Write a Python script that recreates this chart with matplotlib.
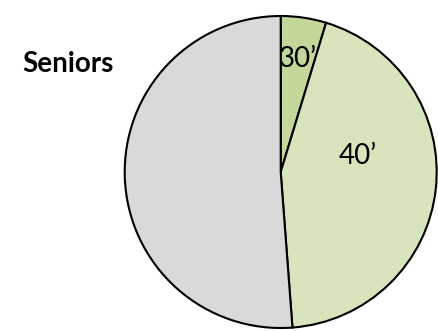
import matplotlib
matplotlib.use("Agg")
import matplotlib.pyplot as plt
import numpy as np

plt.rcParams['font.family'] = ['Lato', 'DejaVu Sans']

# Share of seniors by age band
categories = ["30’", "40’", "Other"]
shares = [4.7, 44.1, 51.2]
colors = ["#C4D79B", "#D8E4BC", "#D9D9D9"]
show_label = [True, True, False]
title = "Seniors"

W, H, DPI = 439, 331, 100
fig = plt.figure(figsize=(W / DPI, H / DPI), dpi=DPI)

# Square axes holding the unit-radius pie
cx, cy, r = 280.7, 172.0, 156.0
ax = fig.add_axes([(cx - r) / W, (H - cy - r) / H, 2 * r / W, 2 * r / H])

wedges, _ = ax.pie(shares, colors=colors, startangle=90, counterclock=False,
                   radius=1.0,
                   wedgeprops=dict(edgecolor="black", linewidth=1.5))
for w in wedges:
    w.set_clip_on(False)
ax.set_xlim(-1, 1)
ax.set_ylim(-1, 1)
ax.set_aspect('auto')
ax.axis('off')

# Category labels placed inside their slices
label_radius = [0.73, 0.50, 0.5]
label_shift = [0.0, 0.16, 0.0]
for w, name, show, rad, shift in zip(wedges, categories, show_label, label_radius, label_shift):
    if not show:
        continue
    mid = np.deg2rad((w.theta1 + w.theta2) / 2)
    x = rad * np.cos(mid)
    y = rad * np.sin(mid) + shift
    ax.text(x, y, name, ha='center', va='center', fontsize=20, color='black')

fig.text(22 / W, 1 - 72 / H, title, fontsize=20, fontweight='bold',
         ha='left', va='baseline', color='black')

fig.savefig("out.png", dpi=DPI)
